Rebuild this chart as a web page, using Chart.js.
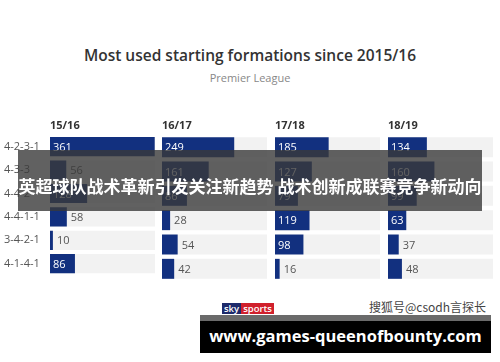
<!DOCTYPE html>
<html>
<head>
<meta charset="utf-8">
<script src="https://cdn.jsdelivr.net/npm/chart.js@4.4.0/dist/chart.umd.min.js"></script>
<style>
  body { margin: 0; width: 500px; height: 362px; background: #fff; position: relative; overflow: hidden; font-family: "Open Sans", sans-serif; }
  .title { position: absolute; top: 44px; left: 0; width: 500px; text-align: center; font-size: 15.5px; font-weight: 600; color: #333; }
  .subtitle { position: absolute; top: 70px; left: 0; width: 500px; text-align: center; font-size: 11px; color: #888; }
  .panel { position: absolute; top: 110px; height: 175px; }
  .banner { position: absolute; left: 18px; top: 150px; width: 464px; height: 61px; background: rgba(58,58,58,0.8);
            color: #fff; font-family: "Noto Sans CJK SC", sans-serif; font-weight: 700; font-size: 17px;
            line-height: 61px; text-align: center; white-space: nowrap; padding-top: 5px; box-sizing: border-box; }
  .sky { position: absolute; left: 222px; top: 303px; height: 11px; font-size: 9.5px; line-height: 11px; color: #fff; font-weight: 600; }
  .sky span { display: inline-block; padding: 0 2px; }
  .sohu { position: absolute; left: 369px; top: 298px; font-family: "Noto Sans CJK SC", sans-serif; font-size: 12px; color: #444; }
  .site { position: absolute; left: 200px; top: 315px; width: 291px; height: 38px; background: #000; border-top: 6px solid #6a6a6a;
          box-sizing: border-box; color: #fff; font-weight: 700; font-size: 16.5px; line-height: 30px; text-align: center; white-space: nowrap; }
</style>
</head>
<body>
<div class="title">Most used starting formations since 2015/16</div>
<div class="subtitle">Premier League</div>

<canvas id="c0" class="panel" style="left:0px;width:158px"></canvas>
<canvas id="c1" class="panel" style="left:158px;width:113px"></canvas>
<canvas id="c2" class="panel" style="left:271px;width:113px"></canvas>
<canvas id="c3" class="panel" style="left:384px;width:113px"></canvas>

<div class="banner">英超球队战术革新引发关注新趋势 战术创新成联赛竞争新动向</div>
<div class="sky"><span style="background:#1d2a6b">sky</span><span style="background:#d0202c">sports</span></div>
<div class="sohu">搜狐号@csodh言探长</div>
<div class="site">www.games-queenofbounty.com</div>

<script>
// 行ラベル（フォーメーション）とシーズン
const formations = ["4-2-3-1", "4-3-3", "4-4-2", "4-4-1-1", "3-4-2-1", "4-1-4-1"];
const seasons = ["15/16", "16/17", "17/18", "18/19"];

// 各シーズンの使用回数
const s1516 = [361, 56, 128, 58, 10, 86];
const s1617 = [249, 161, 86, 28, 54, 42];
const s1718 = [185, 127, 79, 119, 98, 16];
const s1819 = [134, 160, 99, 63, 37, 48];

const seasonValues = [s1516, s1617, s1718, s1819];
const axisMax = 362;

const barColor = "#12307f";
const trackColor = "#f2f2f2";

/* --------- プラグイン：シーズン見出しと数値ラベル --------- */
const labelPlugin = {
  id: "labels",
  afterDatasetsDraw(chart, args, opts) {
    const ctx = chart.ctx;
    const area = chart.chartArea;
    ctx.save();
    // 見出し
    ctx.font = "bold 11px 'Open Sans', sans-serif";
    ctx.fillStyle = "#333";
    ctx.textAlign = "left";
    ctx.textBaseline = "middle";
    ctx.fillText(opts.header, area.left, area.top - 9);

    // 数値
    ctx.font = "11px 'Open Sans', sans-serif";
    const meta = chart.getDatasetMeta(1);
    const vals = chart.data.datasets[1].data;
    meta.data.forEach((bar, i) => {
      const v = vals[i];
      if (v >= 60) {
        ctx.fillStyle = "#fff";
        ctx.fillText(v, area.left + 3, bar.y + 1);
      } else {
        ctx.fillStyle = "#555";
        ctx.fillText(v, bar.x + 4, bar.y + 1);
      }
    });
    ctx.restore();
  },
};

function makeChart(idx) {
  const first = idx === 0;
  return new Chart(document.getElementById("c" + idx), {
    type: "bar",
    data: {
      labels: formations,
      datasets: [
        {
          data: formations.map(() => axisMax),
          backgroundColor: trackColor,
          grouped: false,
          order: 2,
        },
        {
          data: seasonValues[idx],
          backgroundColor: barColor,
          grouped: false,
          order: 1,
        },
      ],
    },
    options: {
      indexAxis: "y",
      responsive: false,
      animation: false,
      events: [],
      barPercentage: 0.82,
      categoryPercentage: 1,
      layout: { padding: { left: 4, right: first ? 3 : 4, top: 25, bottom: 4 } },
      plugins: {
        legend: { display: false },
        tooltip: { enabled: false },
        labels: { header: seasons[idx] },
      },
      scales: {
        x: { display: false, min: 0, max: axisMax },
        y: {
          display: first,
          grid: { display: false },
          border: { display: false },
          afterFit: (s) => { if (first) s.width = 46; },
          ticks: {
            crossAlign: "far",
            color: "#555",
            font: { size: 11, family: "'Open Sans', sans-serif" },
          },
        },
      },
    },
    plugins: [labelPlugin],
  });
}

// キャンバスサイズ設定
[158, 113, 113, 113].forEach((w, i) => {
  const c = document.getElementById("c" + i);
  c.width = w;
  c.height = 175;
});

seasons.forEach((s, i) => makeChart(i));
</script>
</body>
</html>
